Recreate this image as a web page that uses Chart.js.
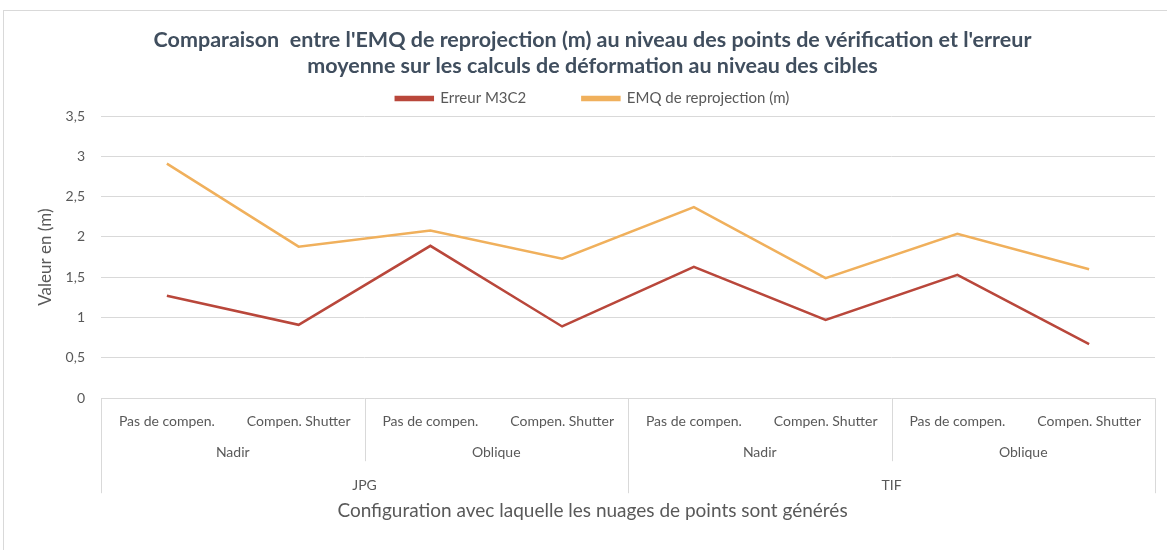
<!DOCTYPE html>
<html>
<head>
<meta charset="utf-8">
<script src="https://cdn.jsdelivr.net/npm/chart.js@4.4.0/dist/chart.umd.min.js"></script>
<style>
  html, body { margin: 0; padding: 0; background: #fff; }
</style>
</head>
<body>
<canvas id="myChart" width="1167" height="550"></canvas>
<script>
let sousConfig = ['Pas de compen.', 'Compen. Shutter', 'Pas de compen.', 'Compen. Shutter',
                  'Pas de compen.', 'Compen. Shutter', 'Pas de compen.', 'Compen. Shutter'];
let vues = ['Nadir', 'Oblique', 'Nadir', 'Oblique'];
let formats = ['JPG', 'TIF'];

let erreurM3C2 = [1.27, 0.91, 1.89, 0.89, 1.63, 0.97, 1.53, 0.67];
let emqReproj = [2.91, 1.88, 2.08, 1.73, 2.37, 1.49, 2.04, 1.60];

let gris = '#d9d9d9';
let texte = '#595959';
let police = 'Lato, "Open Sans", sans-serif';

// cadre gris autour du graphique
const cadre = {
  id: 'cadre',
  beforeDraw(chart) {
    const ctx = chart.ctx;
    ctx.save();
    ctx.strokeStyle = gris;
    ctx.lineWidth = 1;
    ctx.strokeRect(3.5, 10.5, 1180, 560);
    ctx.restore();
  }
};

// traits verticaux de l'axe à plusieurs niveaux
const separateurs = {
  id: 'separateurs',
  afterDraw(chart) {
    const { ctx, scales: { x, x2, x3 } } = chart;
    const n = sousConfig.length;
    const w = (x.right - x.left) / n;
    const parFormat = n / formats.length;
    const parVue = n / vues.length;
    ctx.save();
    ctx.strokeStyle = gris;
    ctx.lineWidth = 1;
    const trait = (px, bas) => {
      ctx.beginPath();
      ctx.moveTo(Math.round(px) + 0.5, x.top);
      ctx.lineTo(Math.round(px) + 0.5, bas);
      ctx.stroke();
    };
    for (let i = 0; i <= n; i += parVue) {
      if (i % parFormat === 0) trait(x.left + i * w, x3.bottom);
      else trait(x.left + i * w, x2.bottom);
    }
    ctx.restore();
  }
};

function axeNiveau(labels, padding, hauteur) {
  const axe = {
    type: 'category',
    position: 'bottom',
    offset: true,
    grid: { display: false, drawTicks: false },
    border: { display: false },
    afterFit(scale) { scale.height = hauteur; },
    ticks: {
      autoSkip: false, maxRotation: 0, padding: padding,
      color: texte, font: { family: police, size: 14 }
    }
  };
  if (labels) axe.labels = labels;
  return axe;
}

let ctx = document.getElementById('myChart').getContext('2d');

let chart = new Chart(ctx, {
  type: 'line',
  data: {
    labels: sousConfig,
    datasets: [
      {
        label: 'Erreur M3C2',
        data: erreurM3C2,
        borderColor: '#b9473b',
        backgroundColor: '#b9473b',
        borderWidth: 2.5,
        pointRadius: 0,
        tension: 0
      },
      {
        label: 'EMQ de reprojection (m)',
        data: emqReproj,
        borderColor: '#f0b05c',
        backgroundColor: '#f0b05c',
        borderWidth: 2.5,
        pointRadius: 0,
        tension: 0
      }
    ]
  },
  options: {
    responsive: false,
    animation: false,
    devicePixelRatio: 1,
    layout: { padding: { left: 30, right: 12, top: 0, bottom: 28 } },
    plugins: {
      title: {
        display: true,
        text: ["Comparaison  entre l'EMQ de reprojection (m) au niveau des points de vérification et l'erreur",
               'moyenne sur les calculs de déformation au niveau des cibles'],
        color: '#404e5e',
        font: { family: police, size: 21.5, weight: 'bold', lineHeight: 1.21 },
        padding: { top: 27, bottom: 2 }
      },
      subtitle: {
        display: true,
        position: 'bottom',
        text: 'Configuration avec laquelle les nuages de points sont générés',
        color: texte,
        font: { family: police, size: 19, weight: 'normal', lineHeight: 1.2 },
        padding: { top: 6, bottom: 0 }
      },
      legend: {
        display: true,
        position: 'top',
        labels: {
          color: texte,
          font: { family: police, size: 15 },
          boxWidth: 37,
          boxHeight: 3,
          padding: 10,
          generateLabels(chart) {
            const items = Chart.defaults.plugins.legend.labels.generateLabels(chart);
            items.forEach((it, i) => { if (i < items.length - 1) it.text = it.text + '            '; });
            return items;
          }
        }
      },
      tooltip: { enabled: false }
    },
    scales: {
      x: axeNiveau(null, 15, 31),
      x2: axeNiveau(vues, 15, 32),
      x3: axeNiveau(formats, 16, 32),
      y: {
        min: 0,
        max: 3.5,
        afterFit(scale) { scale.width = 71; },
        grid: { color: gris, lineWidth: 1, drawTicks: false },
        border: { display: false },
        ticks: {
          stepSize: 0.5,
          padding: 16,
          color: texte,
          font: { family: police, size: 14 },
          callback: v => String(v).replace('.', ',')
        },
        title: {
          display: true,
          text: 'Valeur en (m)',
          color: texte,
          font: { family: police, size: 17 },
          padding: { top: 5, bottom: 0 }
        }
      }
    }
  },
  plugins: [cadre, separateurs]
});
</script>
</body>
</html>
